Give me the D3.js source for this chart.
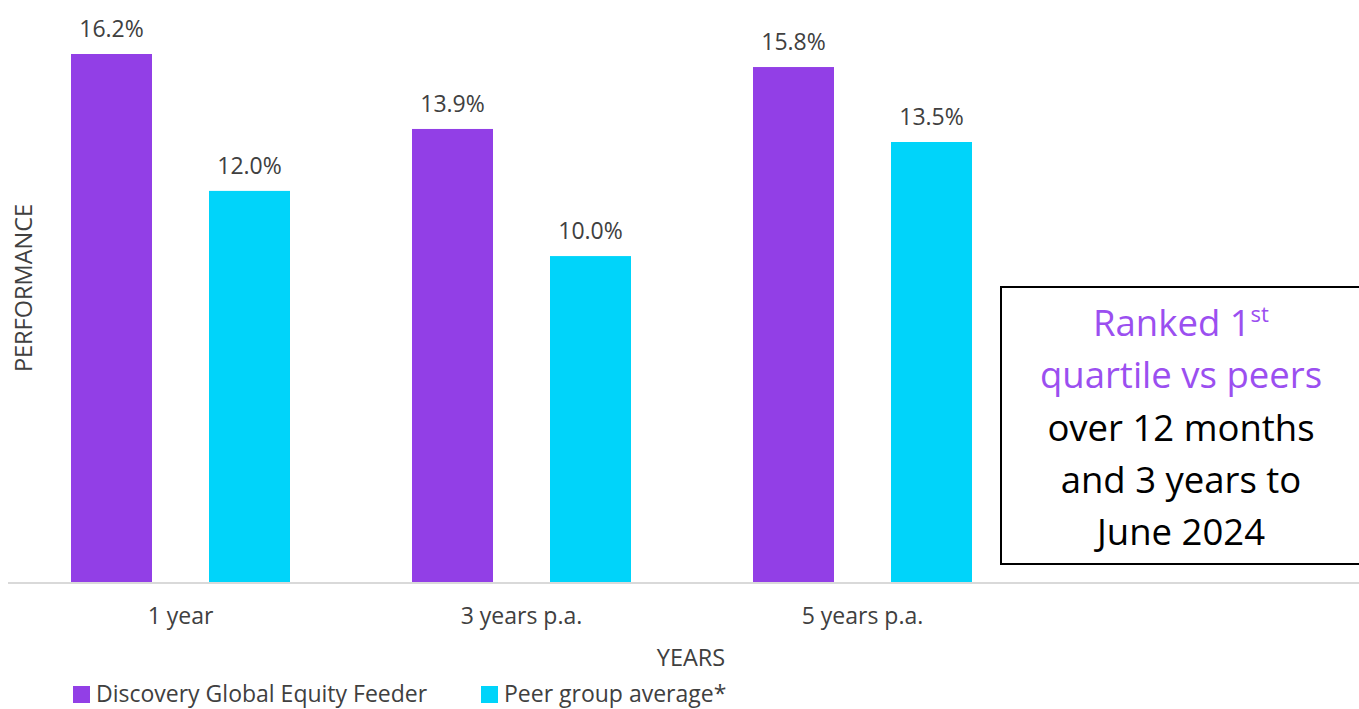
<!DOCTYPE html>
<html>
<head>
<meta charset="utf-8">
<script src="https://cdn.jsdelivr.net/npm/d3@7"></script>
<style>
  body { margin: 0; background: #fff; }
  svg { display: block; font-family: "Open Sans", Lato, sans-serif; }
</style>
</head>
<body>
<div id="main-container"></div>
<script>
// DATA
const categories = ["1 year", "3 years p.a.", "5 years p.a."];
const seriesNames = ["Discovery Global Equity Feeder", "Peer group average*"];
const fundValues = [16.2, 13.9, 15.8];
const peerValues = [12.0, 10.0, 13.5];
const boxLines = [
    {text: "Ranked 1", sup: "st", purple: true},
    {text: "quartile vs peers", purple: true},
    {text: "over 12 months", purple: false},
    {text: "and 3 years to", purple: false},
    {text: "June 2024", purple: false}
];

// COLOUR CONSTANTS
const colorSeries = d3.scaleOrdinal()
    .domain(seriesNames)
    .range(["#923fe6", "#00d4fa"]);
const textColor = "#404040";

// DRAWING SETUP
const width = 1359, height = 709;
const baseY = 582;

const svg = d3.select("#main-container").append("svg")
    .attr("width", width)
    .attr("height", height);

const x = d3.scaleBand()
    .domain(categories)
    .range([10, 1033]);

const xInner = d3.scaleBand()
    .domain(seriesNames)
    .range([61, 280])
    .paddingInner(57 / 138);

const y = d3.scaleLinear()
    .domain([0, 16.2])
    .range([baseY, 54]);

const rows = categories.map((c, i) => ({
    category: c,
    values: [
        {series: seriesNames[0], value: fundValues[i]},
        {series: seriesNames[1], value: peerValues[i]}
    ]
}));

const group = svg.selectAll(".group")
    .data(rows)
    .enter().append("g")
        .attr("class", "group")
        .attr("transform", d => `translate(${x(d.category)},0)`);

group.selectAll("rect")
    .data(d => d.values)
    .enter().append("rect")
        .attr("x", d => xInner(d.series))
        .attr("width", xInner.bandwidth())
        .attr("y", d => y(d.value))
        .attr("height", d => baseY - y(d.value))
        .style("fill", d => colorSeries(d.series));

group.selectAll(".value-label")
    .data(d => d.values)
    .enter().append("text")
        .attr("class", "value-label")
        .attr("x", d => xInner(d.series) + xInner.bandwidth() / 2)
        .attr("y", d => y(d.value) - 17)
        .attr("text-anchor", "middle")
        .attr("font-size", 23)
        .attr("fill", textColor)
        .text(d => d.value.toFixed(1) + "%");

// x axis line + labels
svg.append("line")
    .attr("x1", 8).attr("x2", width)
    .attr("y1", baseY + 1).attr("y2", baseY + 1)
    .style("stroke", "#d9d9d9")
    .style("stroke-width", 2);

svg.selectAll(".cat-label")
    .data(categories)
    .enter().append("text")
        .attr("class", "cat-label")
        .attr("x", d => x(d) + x.bandwidth() / 2)
        .attr("y", 624)
        .attr("text-anchor", "middle")
        .attr("font-size", 23)
        .attr("fill", textColor)
        .text(d => d);

svg.append("text")
    .attr("x", 691)
    .attr("y", 666)
    .attr("text-anchor", "middle")
    .attr("font-size", 23.5)
    .attr("fill", textColor)
    .text("YEARS");

svg.append("text")
    .attr("transform", "translate(32,288) rotate(-90)")
    .attr("text-anchor", "middle")
    .attr("font-size", 23.5)
    .attr("fill", textColor)
    .text("PERFORMANCE");

// legend
const legendX = [73, 481];
const legend = svg.selectAll(".legend")
    .data(seriesNames)
    .enter().append("g")
        .attr("class", "legend")
        .attr("transform", (d, i) => `translate(${legendX[i]},686)`);

legend.append("rect")
    .attr("width", 17)
    .attr("height", 17)
    .style("fill", d => colorSeries(d));

legend.append("text")
    .attr("x", 23)
    .attr("y", 16)
    .attr("font-size", 23)
    .attr("fill", textColor)
    .text(d => d);

// callout box
svg.append("rect")
    .attr("x", 1001)
    .attr("y", 287)
    .attr("width", 370)
    .attr("height", 277)
    .style("fill", "#fff")
    .style("stroke", "#000")
    .style("stroke-width", 2);

const boxText = svg.selectAll(".box-line")
    .data(boxLines)
    .enter().append("text")
        .attr("class", "box-line")
        .attr("x", 1181)
        .attr("y", (d, i) => 336 + i * 52.3)
        .attr("text-anchor", "middle")
        .attr("font-size", 36.5)
        .attr("fill", d => d.purple ? "#9b4ff0" : "#000");

boxText.append("tspan").text(d => d.text);
boxText.filter(d => d.sup)
    .append("tspan")
        .attr("dy", -14)
        .attr("font-size", 22)
        .text(d => d.sup);
</script>
</body>
</html>
